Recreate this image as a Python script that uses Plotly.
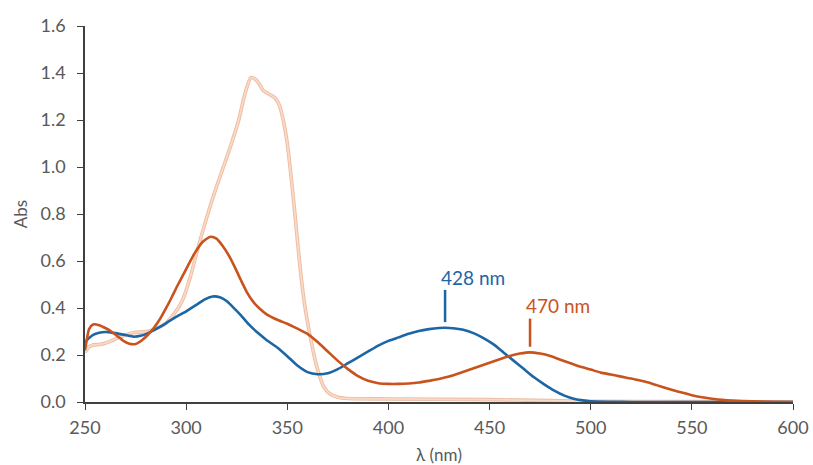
import numpy as np
import plotly.graph_objects as go

# ---- data ----
wl_blue = [250,252,254,257,260,265,270,274,278,281,285,290,295,300,305,309,313,317,320,323,327,331,336,340,345,350,355,360,365,370,375,380,385,390,395,400,405,410,415,420,425,428,432,437,442,447,452,457,462,467,472,477,482,487,492,497,500,510,520,550,600]
abs_blue = [0.255,0.272,0.286,0.295,0.298,0.293,0.285,0.278,0.283,0.292,0.31,0.335,0.362,0.386,0.413,0.436,0.449,0.445,0.43,0.405,0.37,0.33,0.29,0.262,0.232,0.195,0.155,0.127,0.118,0.122,0.14,0.165,0.19,0.215,0.24,0.26,0.275,0.29,0.302,0.31,0.315,0.316,0.314,0.307,0.293,0.272,0.245,0.21,0.175,0.14,0.105,0.075,0.048,0.027,0.013,0.006,0.003,0.001,0.0,0.0,0.0]

wl_orange = [250,251,252,254,257,260,263,266,269,272,275,278,281,284,287,290,293,296,300,304,308,312,315,318,321,324,327,330,333,336,340,345,350,355,360,365,370,375,380,385,390,395,400,405,410,415,420,425,430,435,440,445,450,455,460,465,470,475,480,485,490,495,500,505,510,515,520,525,530,535,540,545,550,555,560,565,570,580,590,600]
abs_orange = [0.22,0.27,0.31,0.33,0.327,0.315,0.30,0.28,0.26,0.248,0.247,0.262,0.285,0.315,0.352,0.398,0.448,0.50,0.565,0.63,0.68,0.703,0.695,0.665,0.625,0.575,0.52,0.468,0.428,0.4,0.372,0.35,0.333,0.312,0.29,0.255,0.215,0.175,0.14,0.11,0.09,0.08,0.077,0.077,0.079,0.083,0.09,0.098,0.108,0.122,0.137,0.152,0.167,0.182,0.196,0.206,0.211,0.206,0.196,0.18,0.165,0.15,0.138,0.125,0.117,0.108,0.1,0.09,0.079,0.065,0.052,0.04,0.029,0.02,0.014,0.009,0.006,0.003,0.001,0.0]

wl_peach = [250,252,254,257,260,263,266,270,274,278,282,286,290,294,298,302,306,310,314,318,322,326,329,332,334,336,338,341,344,346,348,350,352,354,356,358,360,362,364,366,368,371,375,380,400,450,480,500,550,600]
abs_peach = [0.212,0.235,0.243,0.245,0.25,0.26,0.272,0.285,0.295,0.298,0.302,0.315,0.335,0.375,0.43,0.53,0.66,0.78,0.89,0.99,1.09,1.2,1.31,1.38,1.375,1.355,1.327,1.31,1.293,1.265,1.2,1.1,0.95,0.78,0.6,0.45,0.34,0.25,0.17,0.11,0.065,0.035,0.02,0.015,0.013,0.01,0.006,0.003,0.002,0.001]

peak_wl = [428, 470]
peak_labels = ["428 nm", "470 nm"]

x_ticks = [250, 300, 350, 400, 450, 500, 550, 600]
y_ticks = [0.0, 0.2, 0.4, 0.6, 0.8, 1.0, 1.2, 1.4, 1.6]

BLUE = "#1c66a6"
ORANGE = "#c9531c"
PEACH_EDGE = "#eabca5"
PEACH_IN = "#fcd9c4"
GREY = "#595959"
FONT = "Lato"

fig = go.Figure()
fig.add_trace(go.Scatter(x=wl_peach, y=abs_peach, mode="lines",
                         line=dict(color=PEACH_EDGE, width=3.6, shape="spline", smoothing=0.6),
                         hoverinfo="skip"))
fig.add_trace(go.Scatter(x=wl_peach, y=abs_peach, mode="lines",
                         line=dict(color=PEACH_IN, width=1.8, shape="spline", smoothing=0.6)))
fig.add_trace(go.Scatter(x=wl_blue, y=abs_blue, mode="lines",
                         line=dict(color=BLUE, width=2.6, shape="spline", smoothing=0.6)))
fig.add_trace(go.Scatter(x=wl_orange, y=abs_orange, mode="lines",
                         line=dict(color=ORANGE, width=2.6, shape="spline", smoothing=0.6)))

series = [(wl_blue, abs_blue, BLUE, 0.137), (wl_orange, abs_orange, ORANGE, 0.12)]
for (wl, ab, col, ln), pw, lab in zip(series, peak_wl, peak_labels):
    v = float(np.interp(pw, wl, ab))
    y0 = v + 0.024
    y1 = y0 + ln
    fig.add_shape(type="line", xref="x", yref="y", x0=pw, x1=pw, y0=y0, y1=y1,
                  line=dict(color=col, width=2.5))
    fig.add_annotation(x=pw - 3, y=y1 + 0.054, xref="x", yref="y", text=lab,
                       showarrow=False, xanchor="left", yanchor="middle",
                       font=dict(family=FONT, size=19, color=col))

axis_common = dict(showgrid=False, zeroline=False, showline=True, linecolor="#404040",
                   linewidth=1.5, ticks="outside", tickcolor="#404040", ticklen=6,
                   tickwidth=1.3, automargin=False,
                   tickfont=dict(family=FONT, size=18, color=GREY))

fig.update_xaxes(range=[250, 600], tickvals=x_ticks, ticktext=[str(t) for t in x_ticks],
                 ticklabelstandoff=3,
                 title=dict(text="λ (nm)", font=dict(family=FONT, size=17, color=GREY), standoff=16),
                 **axis_common)
fig.update_yaxes(range=[0, 1.6], tickvals=y_ticks, ticktext=[f"{t:.1f}" for t in y_ticks],
                 ticklabelstandoff=8,
                 title=dict(text="Abs", font=dict(family=FONT, size=17, color=GREY), standoff=9),
                 **axis_common)

fig.update_layout(width=813, height=465, showlegend=False,
                  plot_bgcolor="white", paper_bgcolor="white",
                  margin=dict(l=85, r=20, t=26, b=63))

# remove the page's default body margin so the figure fills the window exactly
fig.write_html("out.html", config={"displayModeBar": False},
               post_script="document.body.style.margin='0';document.body.style.overflow='hidden';")
